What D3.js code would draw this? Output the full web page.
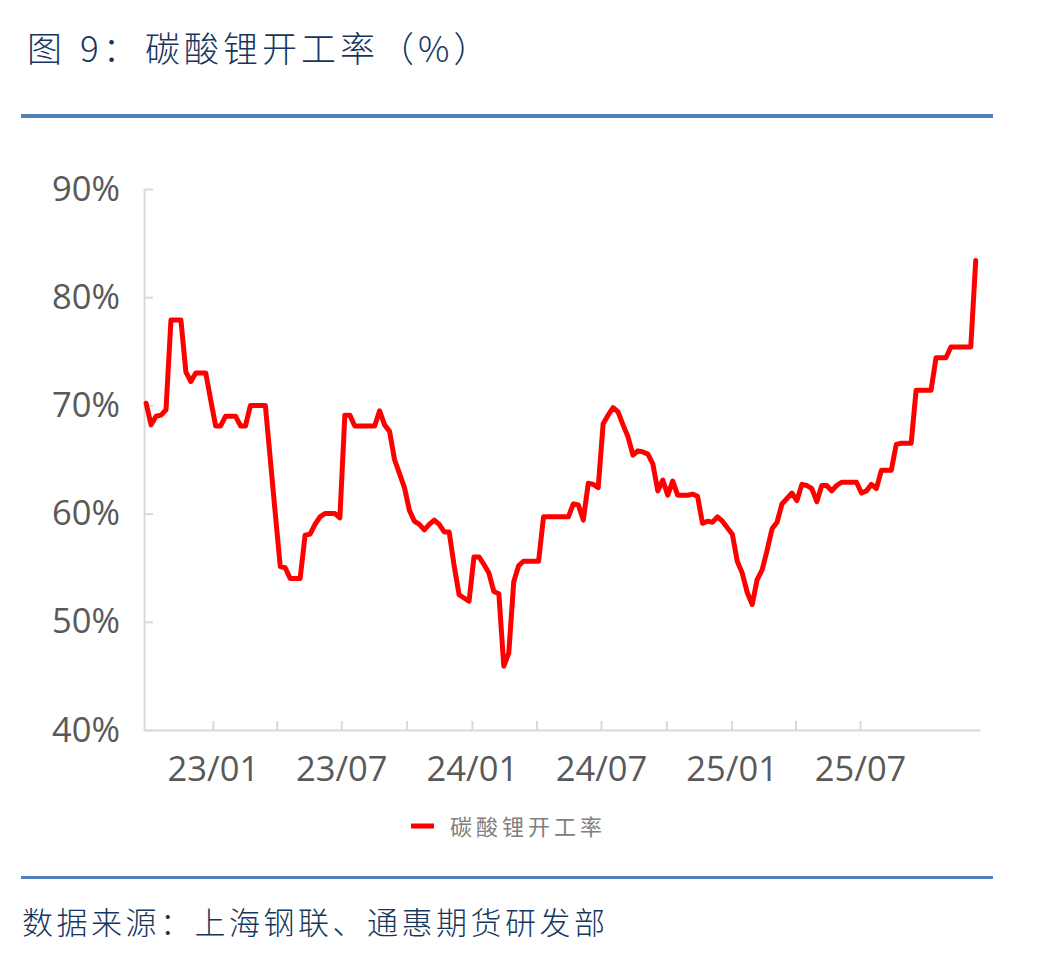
<!DOCTYPE html>
<html>
<head>
<meta charset="utf-8">
<script src="https://cdn.jsdelivr.net/npm/d3@7"></script>
<style>
  html, body { margin: 0; padding: 0; background: #fff; }
  svg { display: block; }
</style>
</head>
<body>
<div id="chart"></div>
<script>
// weekly operating rate of lithium carbonate, %
const seriesName = '碳酸锂开工率';
const firstWeek = '2022-09-29';
const rates = [
  70.2, 68.2, 69.0, 69.1, 69.6, 77.9, 77.9, 77.9, 73.1, 72.2,
  73.0, 73.0, 73.0, 70.5, 68.1, 68.1, 69.0, 69.0, 69.0, 68.1,
  68.1, 70.0, 70.0, 70.0, 70.0, 65.0, 60.0, 55.1, 55.0, 54.0,
  54.0, 54.0, 58.0, 58.1, 59.0, 59.7, 60.0, 60.0, 60.0, 59.6,
  69.1, 69.1, 68.1, 68.1, 68.1, 68.1, 68.1, 69.5, 68.2, 67.6,
  65.0, 63.7, 62.4, 60.3, 59.3, 59.0, 58.5, 59.0, 59.4, 59.0,
  58.3, 58.3, 55.2, 52.5, 52.2, 51.9, 56.0, 56.0, 55.3, 54.5,
  52.8, 52.6, 45.9, 47.1, 53.7, 55.2, 55.6, 55.6, 55.6, 55.6,
  59.7, 59.7, 59.7, 59.7, 59.7, 59.7, 60.9, 60.8, 59.4, 62.8,
  62.7, 62.4, 68.3, 69.1, 69.8, 69.4, 68.2, 67.1, 65.4, 65.8,
  65.7, 65.5, 64.6, 62.1, 63.1, 61.7, 63.0, 61.7, 61.7, 61.7,
  61.8, 61.6, 59.1, 59.3, 59.2, 59.7, 59.3, 58.7, 58.1, 55.6,
  54.5, 52.7, 51.6, 53.9, 54.8, 56.6, 58.6, 59.2, 60.9, 61.4,
  61.9, 61.2, 62.7, 62.6, 62.3, 61.1, 62.6, 62.6, 62.1, 62.6,
  62.9, 62.9, 62.9, 62.9, 61.9, 62.1, 62.7, 62.3, 64.0, 64.0,
  64.0, 66.4, 66.5, 66.5, 66.5, 71.4, 71.4, 71.4, 71.4, 74.4,
  74.4, 74.4, 75.4, 75.4, 75.4, 75.4, 75.4, 83.4
];
const yTicks = [40, 50, 60, 70, 80, 90];
const xTicks = ['2023-01-01', '2023-04-01', '2023-07-01', '2023-10-01', '2024-01-01', '2024-04-01',
  '2024-07-01', '2024-10-01', '2025-01-01', '2025-04-01', '2025-07-01'];
const xLabels = ['2023-01-01', '2023-07-01', '2024-01-01', '2024-07-01', '2025-01-01', '2025-07-01'];
const titleText = ['图', '9：', '碳酸锂开工率（%）'];
const sourceText = '数据来源：上海钢联、通惠期货研发部';

const width = 1062;
const height = 953;
const navy = '#17365d';
const ruleBlue = '#4f81bd';
const axisGrey = '#d9d9d9';
const labelGrey = '#595959';
const cjk = '"Noto Sans CJK SC", "Noto Sans", sans-serif';
const latin = '"Open Sans", "Noto Sans", sans-serif';

const parse = d3.utcParse('%Y-%m-%d');
const start = parse(firstWeek);
const data = rates.map((v, i) => ({ date: d3.utcWeek.offset(start, i), value: v }));

const svg = d3.select('#chart')
  .append('svg')
  .attr('width', width)
  .attr('height', height);

svg.append('rect').attr('width', width).attr('height', height).attr('fill', '#fff');

// title
const title = svg.append('text')
  .attr('y', 62)
  .attr('fill', navy)
  .style('font-family', cjk)
  .style('font-weight', 300)
  .style('font-size', '35px')
  .style('letter-spacing', '4px');
const titleX = [27, 80, 145];
titleText.forEach((t, i) => title.append('tspan').attr('x', titleX[i]).text(t));

svg.append('rect').attr('x', 21).attr('y', 114).attr('width', 972).attr('height', 4).attr('fill', ruleBlue);
svg.append('rect').attr('x', 21).attr('y', 876).attr('width', 972).attr('height', 3).attr('fill', ruleBlue);

svg.append('text')
  .attr('x', 22)
  .attr('y', 934)
  .attr('fill', navy)
  .style('font-family', cjk)
  .style('font-weight', 300)
  .style('font-size', '31px')
  .style('letter-spacing', '3.5px')
  .text(sourceText);

// scales
const x = d3.scaleUtc()
  .domain([parse('2022-09-26'), parse('2025-12-17')])
  .range([144, 980]);
const y = d3.scaleLinear().domain([40, 90]).range([730, 189]);

const fmt = d3.utcFormat('%y/%m');
const labelSet = new Set(xLabels);

const yAxis = svg.append('g')
  .attr('transform', `translate(${x.range()[0]},0)`)
  .call(d3.axisLeft(y).tickValues(yTicks).tickSize(-9).tickSizeOuter(0).tickPadding(24)
    .tickFormat(d => d + '%'));

const xAxis = svg.append('g')
  .attr('transform', `translate(0,${y.range()[0]})`)
  .call(d3.axisBottom(x).tickValues(xTicks.map(parse)).tickSize(-9).tickSizeOuter(0).tickPadding(27)
    .tickFormat(d => labelSet.has(d3.utcFormat('%Y-%m-%d')(d)) ? fmt(d) : ''));

[yAxis, xAxis].forEach(g => {
  g.select('.domain').attr('stroke', axisGrey).attr('stroke-width', 2);
  g.selectAll('.tick line').attr('stroke', axisGrey).attr('stroke-width', 2);
  g.selectAll('.tick text')
    .attr('fill', labelGrey)
    .style('font-family', latin)
    .style('font-size', '34.5px');
});

// line
svg.append('path')
  .datum(data)
  .attr('fill', 'none')
  .attr('stroke', '#ff0000')
  .attr('stroke-width', 5)
  .attr('stroke-linejoin', 'round')
  .attr('stroke-linecap', 'round')
  .attr('d', d3.line().x(d => x(d.date)).y(d => y(d.value)));

// legend
const legend = svg.append('g').attr('transform', 'translate(411,826)');
legend.append('line')
  .attr('x1', 0).attr('x2', 23)
  .attr('stroke', '#ff0000')
  .attr('stroke-width', 5);
legend.append('text')
  .attr('x', 39)
  .attr('y', 9)
  .attr('fill', '#808080')
  .style('font-family', cjk)
  .style('font-size', '22px')
  .style('letter-spacing', '4px')
  .text(seriesName);
</script>
</body>
</html>
